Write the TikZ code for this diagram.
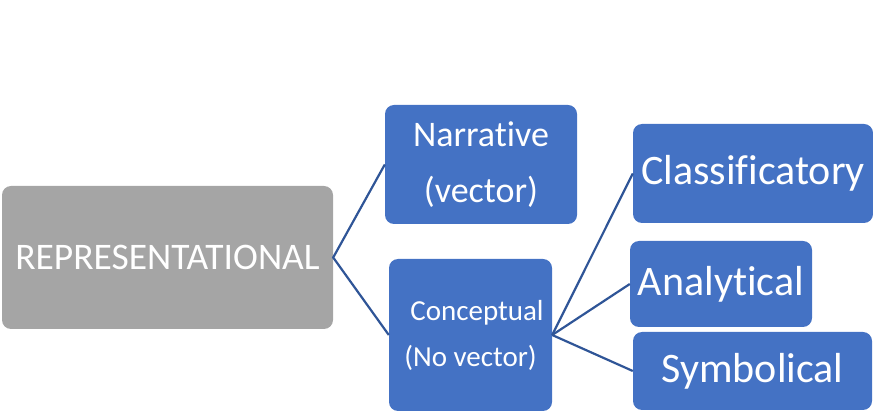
\documentclass[tikz,border=0pt]{standalone}
\usepackage{fontspec}
\setmainfont{Carlito}[Ligatures=NoCommon]
\usepackage{xcolor}
\usetikzlibrary{positioning}

\definecolor{boxblue}{RGB}{68,114,196}
\definecolor{boxgrey}{RGB}{165,165,165}
\definecolor{linkblue}{RGB}{47,85,151}

\begin{document}
\begin{tikzpicture}[
				x=1pt, y=-1pt,
				link/.style={draw=linkblue, line width=2.2pt},
				block/.style={fill=boxblue, text=white, rounded corners=9pt, inner sep=0pt, align=center},
				rootblock/.style={block, fill=boxgrey},
			]
				\useasboundingbox (0,0) rectangle (873,411);

				\node[rootblock, minimum width=331pt, minimum height=143pt, font=\fontsize{37.5}{44}\selectfont] (representational) at (167.5,257.5) {REPRESENTATIONAL};

				\node[block, minimum width=192pt, minimum height=119pt, font=\fontsize{36}{56}\selectfont] (narrative) at (481,164.5) {Narrative\\(vector)};
				\node[block, minimum width=163pt, minimum height=152pt, font=\fontsize{29}{46}\selectfont] (conceptual) at (470.5,335) {\hspace*{13pt}Conceptual\\(No vector)};

				\node[block, minimum width=240pt, minimum height=99pt, font=\fontsize{42}{50}\selectfont] (classificatory) at (753,173.5) {Classificatory};
				\node[block, minimum width=182pt, minimum height=86pt, font=\fontsize{42}{50}\selectfont] (analytical) at (721,284) {Analytical};
				\node[block, minimum width=239pt, minimum height=78pt, font=\fontsize{42}{50}\selectfont] (symbolical) at (752.5,371) {Symbolical};

				\draw[link] (narrative.west) -- (representational.east) -- (conceptual.west);
				\draw[link] (conceptual.east) -- (classificatory.west);
				\draw[link] (conceptual.east) -- (analytical.west);
				\draw[link] (conceptual.east) -- (symbolical.west);
			\end{tikzpicture}
\end{document}
